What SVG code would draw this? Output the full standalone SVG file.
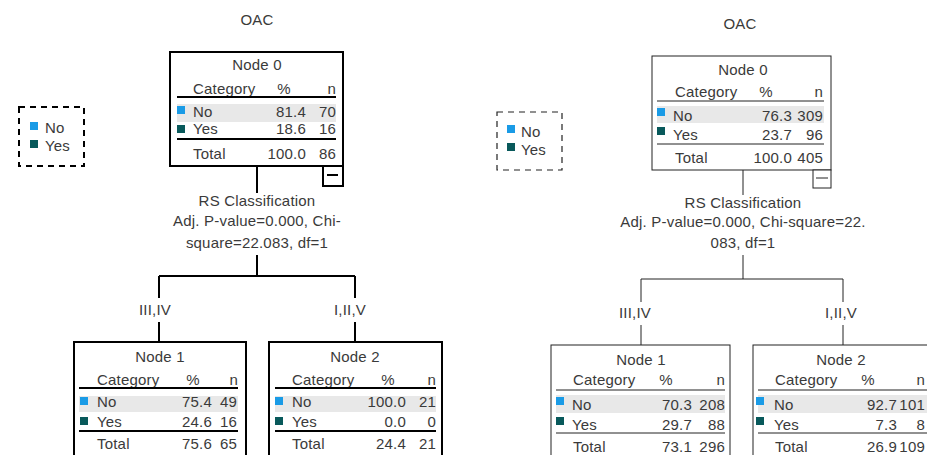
<svg xmlns="http://www.w3.org/2000/svg" width="927" height="455" viewBox="0 0 927 455">
<style>
text{font-family:"Liberation Sans",Arial,sans-serif;font-size:15px;fill:#3a3a3a;letter-spacing:0.2px}
.m{text-anchor:middle}
.r{text-anchor:end}
.bx1{fill:#fff;stroke:#000;stroke-width:2}
.bx2{fill:#fff;stroke:#222;stroke-width:1}
.hl{fill:#e8e8e8}
.ln1{stroke:#000;stroke-width:2;fill:none}
.ln2{stroke:#222;stroke-width:1;fill:none}
.no{fill:#1a9be6}
.yes{fill:#08595b}
.leg{fill:#fff;stroke:#000;stroke-width:2;stroke-dasharray:6,5}
.leg2{fill:#fff;stroke:#222;stroke-width:1.2;stroke-dasharray:6,5}
</style>
<rect width="927" height="455" fill="#fff"/>

<text class="m" x="257" y="25">OAC</text>
<text class="m" x="740" y="29">OAC</text>

<g id="legend-left">
<rect class="leg" x="19" y="107" width="65" height="59"/>
<rect class="no" x="30" y="122" width="8" height="8"/>
<rect class="yes" x="30" y="140" width="8" height="8"/>
<text x="45" y="133">No</text>
<text x="45" y="151">Yes</text>
</g>

<g id="legend-right">
<rect class="leg2" x="497" y="112" width="65" height="58"/>
<rect class="no" x="507" y="125" width="8" height="8"/>
<rect class="yes" x="507" y="143" width="8" height="8"/>
<text x="521" y="137">No</text>
<text x="521" y="155">Yes</text>
</g>

<g id="connectors">
<path class="ln1" d="M257 166V193M257 255V276M159 276H355M159 276V298M159 322V342M355 276V298M355 322V342"/>
<path class="ln2" d="M743 170V195M743 255V279M641 279H843M641 279V302M641 325V345M843 279V302M843 325V345"/>
</g>

<g id="labels-left">
<text class="m" x="257" y="206">RS Classification</text>
<text class="m" x="257" y="226">Adj. P-value=0.000, Chi-</text>
<text class="m" x="257" y="248">square=22.083, df=1</text>
<text class="m" x="155" y="315">III,IV</text>
<text class="m" x="350" y="315">I,II,V</text>
</g>
<g id="labels-right">
<text class="m" x="743" y="208">RS Classification</text>
<text class="m" x="743" y="227">Adj. P-value=0.000, Chi-square=22.</text>
<text class="m" x="743" y="248">083, df=1</text>
<text class="m" x="635" y="318">III,IV</text>
<text class="m" x="841" y="318">I,II,V</text>
</g>

<g id="left-node0" transform="translate(170,52)">
<rect class="bx1" x="0" y="0" width="173" height="114"/>
<rect class="bx1" x="153" y="114" width="20" height="20"/>
<path class="ln1" d="M157 123H168"/>
<text class="m" x="87" y="18">Node 0</text>
<text x="23" y="42">Category</text>
<text class="m" x="114" y="42">%</text>
<text class="r" x="166" y="42">n</text>
<path class="ln1" d="M7 45H166"/>
<rect class="hl" x="7" y="52" width="159" height="18"/>
<rect class="no" x="7" y="54" width="8" height="8"/>
<text x="23" y="65">No</text>
<text class="r" x="136" y="65">81.4</text>
<text class="r" x="166" y="65">70</text>
<rect class="yes" x="7" y="73" width="8" height="8"/>
<text x="23" y="82">Yes</text>
<text class="r" x="136" y="82">18.6</text>
<text class="r" x="166" y="82">16</text>
<path class="ln1" d="M7 87H166"/>
<text x="23" y="107">Total</text>
<text class="r" x="136" y="107">100.0</text>
<text class="r" x="166" y="107">86</text>
</g>

<g id="left-node1" transform="translate(74,342)">
<rect class="bx1" x="0" y="0" width="172" height="120"/>
<text class="m" x="86" y="20">Node 1</text>
<text x="23" y="43">Category</text>
<text class="m" x="119" y="43">%</text>
<text class="r" x="164" y="43">n</text>
<path class="ln1" d="M5 46H164"/>
<rect class="hl" x="5" y="54" width="159" height="16"/>
<rect class="no" x="6" y="55" width="8" height="8"/>
<text x="23" y="65">No</text>
<text class="r" x="138" y="65">75.4</text>
<text class="r" x="163" y="65">49</text>
<rect class="yes" x="6" y="75" width="8" height="8"/>
<text x="23" y="85">Yes</text>
<text class="r" x="138" y="85">24.6</text>
<text class="r" x="163" y="85">16</text>
<path class="ln1" d="M5 89H164"/>
<text x="23" y="107">Total</text>
<text class="r" x="138" y="107">75.6</text>
<text class="r" x="163" y="107">65</text>
</g>

<g id="left-node2" transform="translate(269,342)">
<rect class="bx1" x="0" y="0" width="173" height="120"/>
<text class="m" x="86" y="20">Node 2</text>
<text x="23" y="43">Category</text>
<text class="m" x="119" y="43">%</text>
<text class="r" x="167" y="43">n</text>
<path class="ln1" d="M6 46H167"/>
<rect class="hl" x="6" y="54" width="161" height="16"/>
<rect class="no" x="6" y="55" width="8" height="8"/>
<text x="23" y="65">No</text>
<text class="r" x="137" y="65">100.0</text>
<text class="r" x="167" y="65">21</text>
<rect class="yes" x="6" y="75" width="8" height="8"/>
<text x="23" y="85">Yes</text>
<text class="r" x="137" y="85">0.0</text>
<text class="r" x="167" y="85">0</text>
<path class="ln1" d="M6 89H167"/>
<text x="23" y="107">Total</text>
<text class="r" x="137" y="107">24.4</text>
<text class="r" x="167" y="107">21</text>
</g>

<g id="right-node0" transform="translate(652,56)">
<rect class="bx2" x="0" y="0" width="179" height="114"/>
<rect class="bx2" x="161" y="114" width="18" height="18"/>
<path class="ln2" d="M164 122H176"/>
<text class="m" x="91" y="19">Node 0</text>
<text x="23" y="41">Category</text>
<text class="m" x="114" y="41">%</text>
<text class="r" x="171" y="41">n</text>
<path class="ln2" d="M5 45H172"/>
<rect class="hl" x="5" y="50" width="167" height="17"/>
<rect class="no" x="5" y="52" width="8" height="8"/>
<text x="21" y="65">No</text>
<text class="r" x="140" y="65">76.3</text>
<text class="r" x="171" y="65">309</text>
<rect class="yes" x="5" y="71" width="8" height="8"/>
<text x="21" y="84">Yes</text>
<text class="r" x="140" y="84">23.7</text>
<text class="r" x="171" y="84">96</text>
<path class="ln2" d="M5 88H172"/>
<text x="23" y="107">Total</text>
<text class="r" x="140" y="107">100.0</text>
<text class="r" x="171" y="107">405</text>
</g>

<g id="right-node1" transform="translate(551,345)">
<rect class="bx2" x="0" y="0" width="179" height="120"/>
<text class="m" x="90" y="20">Node 1</text>
<text x="22" y="40">Category</text>
<text class="m" x="115" y="40">%</text>
<text class="r" x="174" y="40">n</text>
<path class="ln2" d="M5 45H174"/>
<rect class="hl" x="5" y="50" width="169" height="18"/>
<rect class="no" x="5" y="52" width="8" height="8"/>
<text x="21" y="65">No</text>
<text class="r" x="141" y="65">70.3</text>
<text class="r" x="174" y="65">208</text>
<rect class="yes" x="5" y="72" width="8" height="8"/>
<text x="21" y="85">Yes</text>
<text class="r" x="141" y="85">29.7</text>
<text class="r" x="174" y="85">88</text>
<path class="ln2" d="M5 88H174"/>
<text x="22" y="107">Total</text>
<text class="r" x="141" y="107">73.1</text>
<text class="r" x="174" y="107">296</text>
</g>

<g id="right-node2" transform="translate(753,345)">
<rect class="bx2" x="0" y="0" width="179" height="120"/>
<text class="m" x="88" y="20">Node 2</text>
<text x="22" y="40">Category</text>
<text class="m" x="115" y="40">%</text>
<text class="r" x="172" y="40">n</text>
<path class="ln2" d="M5 45H174"/>
<rect class="hl" x="5" y="50" width="169" height="18"/>
<rect class="no" x="3" y="52" width="8" height="8"/>
<text x="21" y="65">No</text>
<text class="r" x="144" y="65">92.7</text>
<text class="r" x="172" y="65">101</text>
<rect class="yes" x="3" y="72" width="8" height="8"/>
<text x="21" y="85">Yes</text>
<text class="r" x="144" y="85">7.3</text>
<text class="r" x="172" y="85">8</text>
<path class="ln2" d="M5 88H174"/>
<text x="22" y="107">Total</text>
<text class="r" x="144" y="107">26.9</text>
<text class="r" x="172" y="107">109</text>
</g>
</svg>
